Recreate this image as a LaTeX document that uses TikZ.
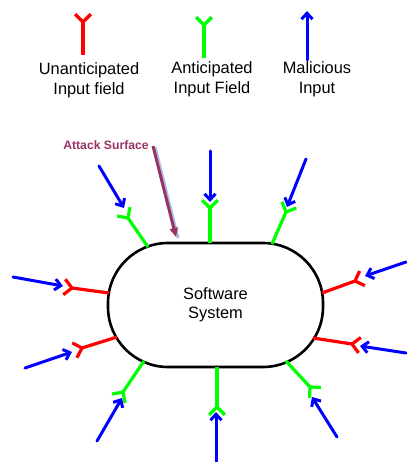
\documentclass[tikz,border=0pt]{standalone}
\usepackage{fontspec}
\setmainfont{Liberation Sans}
\usetikzlibrary{arrows.meta,calc}

\definecolor{fieldred}{RGB}{255,0,0}
\definecolor{fieldgreen}{RGB}{0,255,0}
\definecolor{attackblue}{RGB}{0,0,255}
\definecolor{surfacepurple}{RGB}{153,51,102}
\definecolor{shadowblue}{RGB}{170,190,225}

\tikzset{
  stem/.style={line width=3.2pt},
  attack/.style={draw=attackblue, line width=3pt, line cap=round,
    -{Straight Barb[length=6pt,width=11pt,line width=3pt]}},
  label/.style={font=\fontsize{16.4}{19.5}\selectfont, align=center, inner sep=0pt},
}

% Y-shaped input field: stem from base (#2) to junction (#3), two arms beyond it
\newcommand\inputfield[4]{%
  \coordinate (#1-ext) at ($(#3)!-1!(#2)$);
  \coordinate (#1-armL) at ($(#3)!11pt!45:(#1-ext)$);
  \coordinate (#1-armR) at ($(#3)!11pt!-45:(#1-ext)$);
  \draw[stem, draw=#4] (#2) -- (#3);
  \draw[stem, draw=#4, line join=round] (#1-armL) -- (#3) -- (#1-armR);
}

\begin{document}
\begin{tikzpicture}[x=1pt, y=-1pt]
\useasboundingbox (0,0) rectangle (406,462);

% ---- legend ----
\coordinate (lr-base) at (83,55);  \coordinate (lr-j) at (83,22);
\coordinate (lg-base) at (204,58); \coordinate (lg-j) at (204,25);
\inputfield{lr}{lr-base}{lr-j}{fieldred}
\inputfield{lg}{lg-base}{lg-j}{fieldgreen}
\coordinate (lb-tail) at (307,60); \coordinate (lb-tip) at (307,11);
\draw[attack] (lb-tail) -- (lb-tip);

\node[label] (leg-unant) at (89,80.5) {Unanticipated\\Input field};
\node[label] (leg-ant)   at (212,79.5) {Anticipated\\Input Field};
\node[label] (leg-mal)   at (317,79.5) {Malicious\\Input};

% ---- software system ----
\node[draw, line width=2.6pt, rounded corners=60pt, minimum width=215pt,
      minimum height=124pt, label, inner sep=0pt] (sys) at (215.5,305)
      {Software\\System};

% ---- input fields on the border: base / junction ----
\coordinate (p1-base) at (148,247);  \coordinate (p1-j) at (128,218);
\coordinate (p2-base) at (210,243);  \coordinate (p2-j) at (210,208);
\coordinate (p3-base) at (272,244);  \coordinate (p3-j) at (286,212);
\coordinate (p4-base) at (109,293);  \coordinate (p4-j) at (72,288);
\coordinate (p5-base) at (117,337);  \coordinate (p5-j) at (82,348);
\coordinate (p6-base) at (322,293);  \coordinate (p6-j) at (355,281);
\coordinate (p7-base) at (313,338);  \coordinate (p7-j) at (352,344);
\coordinate (p8-base) at (144,361);  \coordinate (p8-j) at (123,392);
\coordinate (p9-base) at (217,367);  \coordinate (p9-j) at (217,407);
\coordinate (p10-base) at (286,361); \coordinate (p10-j) at (310,387);

\inputfield{p1}{p1-base}{p1-j}{fieldgreen}
\inputfield{p2}{p2-base}{p2-j}{fieldgreen}
\inputfield{p3}{p3-base}{p3-j}{fieldgreen}
\inputfield{p4}{p4-base}{p4-j}{fieldred}
\inputfield{p5}{p5-base}{p5-j}{fieldred}
\inputfield{p6}{p6-base}{p6-j}{fieldred}
\inputfield{p7}{p7-base}{p7-j}{fieldred}
\inputfield{p8}{p8-base}{p8-j}{fieldgreen}
\inputfield{p9}{p9-base}{p9-j}{fieldgreen}
\inputfield{p10}{p10-base}{p10-j}{fieldgreen}

% ---- malicious inputs: tail / tip ----
\coordinate (m1-t) at (99,166);   \coordinate (m1-p) at (124,208);
\coordinate (m2-t) at (210,151);  \coordinate (m2-p) at (210,202);
\coordinate (m3-t) at (306,159);  \coordinate (m3-p) at (287,207);
\coordinate (m4-t) at (13,277);   \coordinate (m4-p) at (63,286);
\coordinate (m5-t) at (25,368);   \coordinate (m5-p) at (72,352);
\coordinate (m6-t) at (406,262);  \coordinate (m6-p) at (365,276);
\coordinate (m7-t) at (406,353);  \coordinate (m7-p) at (360,346);
\coordinate (m8-t) at (97,441);   \coordinate (m8-p) at (122,398);
\coordinate (m9-t) at (216,462);  \coordinate (m9-p) at (216,412);
\coordinate (m10-t) at (337,437); \coordinate (m10-p) at (312,397);
\foreach \i in {1,...,10} {\draw[attack] (m\i-t) -- (m\i-p);}

% ---- attack surface callout ----
\node[text=surfacepurple, font=\bfseries\fontsize{12.2}{14}\selectfont,
      inner sep=0pt] (surf) at (106,145) {Attack Surface};
\coordinate (surf-tail) at (153,146);
\coordinate (surf-tip) at (176,237);
\draw[shadowblue, line width=3pt] ($(surf-tail)+(2,1)$) -- ($(surf-tip)+(2,1)$);
\draw[surfacepurple, line width=3pt,
      -{Triangle[length=9pt,width=8pt]}] (surf-tail) -- (surf-tip);
\end{tikzpicture}
\end{document}
